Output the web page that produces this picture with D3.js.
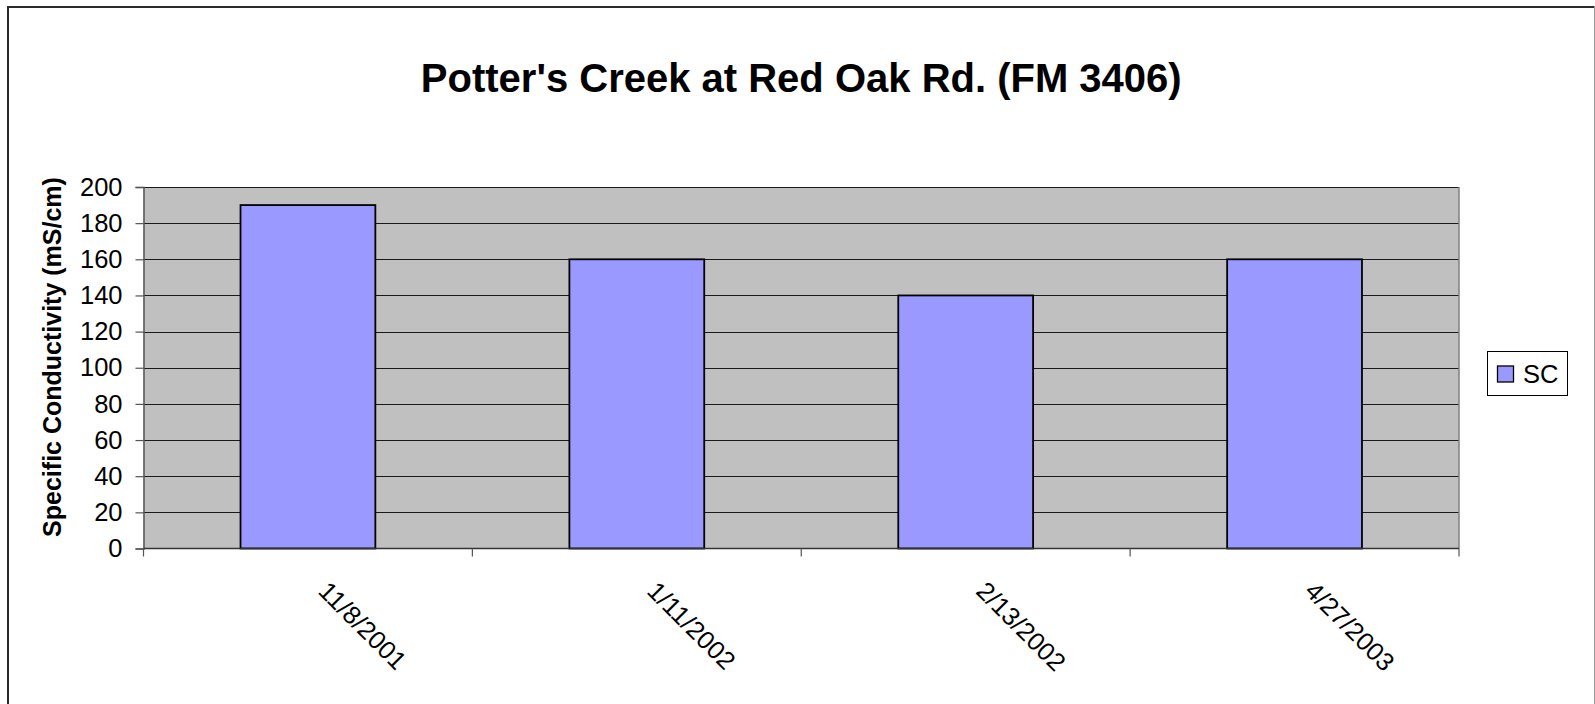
<!DOCTYPE html>
<html>
<head>
<meta charset="utf-8">
<script src="https://cdn.jsdelivr.net/npm/d3@7"></script>
<style>
  html, body { margin: 0; padding: 0; background: #fff; }
  svg { display: block; font-family: "Liberation Sans", Arial, sans-serif; }
</style>
</head>
<body>
<svg id="chart" width="1595" height="704"></svg>
<script>
// Sampling dates and specific conductivity readings
const sampleDates = ["11/8/2001", "1/11/2002", "2/13/2002", "4/27/2003"];
const scValues = [190, 160, 140, 160];
const yTickValues = [0, 20, 40, 60, 80, 100, 120, 140, 160, 180, 200];
const seriesName = "SC";
const chartTitle = "Potter's Creek at Red Oak Rd. (FM 3406)";
const yAxisTitle = "Specific Conductivity (mS/cm)";

const svg = d3.select("#chart");
const plot = { left: 143.5, right: 1459, top: 187, bottom: 548.5 };

// Outer frame of the chart
svg.append("line").attr("x1", 8).attr("y1", 7).attr("x2", 1594).attr("y2", 7)
  .attr("stroke", "#2a2a2a").attr("stroke-width", 2);
svg.append("line").attr("x1", 8).attr("y1", 6).attr("x2", 8).attr("y2", 704)
  .attr("stroke", "#2a2a2a").attr("stroke-width", 2);
svg.append("line").attr("x1", 1594.5).attr("y1", 6).attr("x2", 1594.5).attr("y2", 704)
  .attr("stroke", "#9a9a9a").attr("stroke-width", 1);

// Title
svg.append("text")
  .attr("x", (plot.left + plot.right) / 2)
  .attr("y", 92)
  .attr("text-anchor", "middle")
  .attr("font-size", 40)
  .attr("font-weight", "bold")
  .attr("fill", "#000")
  .text(chartTitle);

// Scales
const padInner = 0.59;
const x = d3.scaleBand()
  .domain(sampleDates)
  .range([plot.left, plot.right])
  .paddingInner(padInner)
  .paddingOuter(padInner / 2);

const y = d3.scaleLinear()
  .domain([0, 200])
  .range([plot.bottom, plot.top]);

// Plot area background
svg.append("rect")
  .attr("x", plot.left).attr("y", plot.top)
  .attr("width", plot.right - plot.left)
  .attr("height", plot.bottom - plot.top)
  .attr("fill", "#c0c0c0");

// Horizontal gridlines
svg.append("g")
  .selectAll("line")
  .data(yTickValues.filter(v => v > 0))
  .join("line")
  .attr("x1", plot.left).attr("x2", plot.right)
  .attr("y1", d => Math.round(y(d)) + 0.5).attr("y2", d => Math.round(y(d)) + 0.5)
  .attr("stroke", "#1a1a1a").attr("stroke-width", 1);

// Plot area border (right side)
svg.append("line")
  .attr("x1", plot.right).attr("x2", plot.right)
  .attr("y1", plot.top).attr("y2", plot.bottom)
  .attr("stroke", "#808080").attr("stroke-width", 1.5);

// Bars
svg.append("g")
  .selectAll("rect")
  .data(sampleDates.map((d, i) => ({ date: d, value: scValues[i] })))
  .join("rect")
  .attr("x", d => x(d.date))
  .attr("y", d => y(d.value))
  .attr("width", x.bandwidth())
  .attr("height", d => y(0) - y(d.value))
  .attr("fill", "#9999ff")
  .attr("stroke", "#000")
  .attr("stroke-width", 1.8);

// Y axis
const yAxis = svg.append("g")
  .attr("transform", `translate(${plot.left},0)`)
  .call(d3.axisLeft(y).tickValues(yTickValues).tickSize(8).tickPadding(13));
yAxis.select(".domain").attr("stroke", "#555").attr("stroke-width", 1.5);
yAxis.selectAll(".tick line").attr("stroke", "#555").attr("stroke-width", 1.2);
yAxis.selectAll(".tick text")
  .attr("font-size", 25.5)
  .attr("font-family", "Liberation Sans, Arial, sans-serif")
  .attr("fill", "#000");

// X axis line with tick marks at category boundaries
const step = x.step();
const boundaries = d3.range(sampleDates.length + 1)
  .map(i => x(sampleDates[0]) - step * padInner / 2 + i * step);
svg.append("line")
  .attr("x1", plot.left).attr("x2", plot.right)
  .attr("y1", plot.bottom).attr("y2", plot.bottom)
  .attr("stroke", "#333").attr("stroke-width", 1.5);
svg.append("g")
  .selectAll("line")
  .data(boundaries)
  .join("line")
  .attr("x1", d => d).attr("x2", d => d)
  .attr("y1", plot.bottom).attr("y2", plot.bottom + 8)
  .attr("stroke", "#555").attr("stroke-width", 1.2);

// Rotated category labels
svg.append("g")
  .selectAll("text")
  .data(sampleDates)
  .join("text")
  .attr("transform", d => `translate(${x(d) + x.bandwidth() / 2 + 9},${plot.bottom + 44}) rotate(45)`)
  .attr("font-size", 25.5)
  .attr("fill", "#000")
  .text(d => d);

// Y axis title
svg.append("text")
  .attr("transform", `translate(61,357) rotate(-90)`)
  .attr("text-anchor", "middle")
  .attr("font-size", 25)
  .attr("font-weight", "bold")
  .attr("fill", "#000")
  .text(yAxisTitle);

// Legend
const legend = svg.append("g");
legend.append("rect")
  .attr("x", 1487.5).attr("y", 351.5).attr("width", 80).attr("height", 44)
  .attr("fill", "#fff").attr("stroke", "#000").attr("stroke-width", 1);
legend.append("rect")
  .attr("x", 1497.5).attr("y", 366).attr("width", 16).attr("height", 16)
  .attr("fill", "#9999ff").attr("stroke", "#000").attr("stroke-width", 1.3);
legend.append("text")
  .attr("x", 1523).attr("y", 383)
  .attr("font-size", 25.5)
  .attr("fill", "#000")
  .text(seriesName);
</script>
</body>
</html>
